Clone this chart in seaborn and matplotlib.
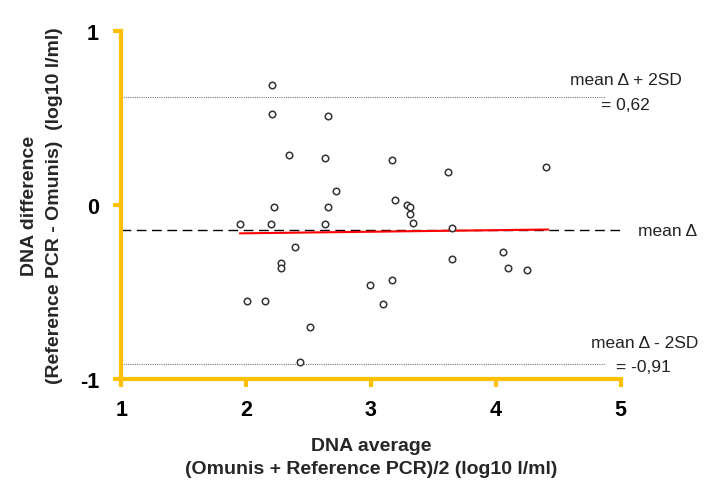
import matplotlib
matplotlib.use("Agg")
import numpy as np
import pandas as pd
import matplotlib.pyplot as plt
import seaborn as sns

# Bland-Altman points
dna_average = [2.21, 2.21, 2.66, 2.34, 2.63, 3.17, 3.62, 4.40, 2.72, 3.19,
               2.22, 2.66, 3.29, 3.31, 3.31, 1.95, 2.20, 2.63, 3.34, 3.65,
               2.39, 2.28, 2.28, 2.01, 2.15, 3.65, 2.99, 3.17, 3.10, 2.51,
               2.43, 4.06, 4.10, 4.25]
dna_difference = [0.69, 0.52, 0.51, 0.29, 0.27, 0.26, 0.19, 0.22, 0.08, 0.03,
                  -0.01, -0.01, 0.00, -0.01, -0.05, -0.11, -0.11, -0.11, -0.10, -0.13,
                  -0.24, -0.33, -0.36, -0.55, -0.55, -0.31, -0.46, -0.43, -0.57, -0.70,
                  -0.90, -0.27, -0.36, -0.37]

upper_loa = 0.62
lower_loa = -0.91
mean_delta = (upper_loa + lower_loa) / 2

# trend line (red)
trend_x = [1.95, 4.42]
trend_y = [-0.162, -0.140]

x_ticks = [1, 2, 3, 4, 5]
y_ticks = [-1, 0, 1]

yellow = "#FFC000"

sns.set_style("white")
plt.rcParams['font.family'] = ['Liberation Sans', 'DejaVu Sans']

fig = plt.figure(figsize=(7.21, 4.89), dpi=100)
ax = fig.add_axes([0.168, 0.222, 0.693, 0.713])

df = pd.DataFrame({'avg': dna_average, 'diff': dna_difference})

ax.plot([1, 4.87], [upper_loa, upper_loa], color="#777777", lw=0.8, ls=(0, (1, 1)))
ax.plot([1, 4.87], [lower_loa, lower_loa], color="#777777", lw=0.8, ls=(0, (1, 1)))
ax.plot([1, 5.0], [mean_delta, mean_delta], color="black", lw=1.0, ls=(0, (7, 4)), clip_on=False)

sns.lineplot(x=trend_x, y=trend_y, color="red", lw=1.5, ax=ax)

sns.scatterplot(data=df, x='avg', y='diff', s=22, facecolor="white",
                edgecolor="#333333", linewidth=1.1, ax=ax, zorder=3)

ax.set_xlim(1, 5)
ax.set_ylim(-1, 1)
ax.set_xticks(x_ticks)
ax.set_yticks(y_ticks)
ax.set_xticklabels([str(t) for t in x_ticks], fontsize=15.5, fontweight='bold')
ax.set_yticklabels([str(t) for t in y_ticks], fontsize=15.5, fontweight='bold')

for side in ['top', 'right']:
    ax.spines[side].set_visible(False)
for side in ['left', 'bottom']:
    ax.spines[side].set_color(yellow)
    ax.spines[side].set_linewidth(3)
ax.tick_params(axis='both', colors=yellow, labelcolor='black', length=6, width=3,
               direction='out', bottom=True, left=True)
ax.tick_params(axis='x', pad=8)
ax.tick_params(axis='y', pad=10)

ax.set_xlabel("DNA average\n(Omunis + Reference PCR)/2 (log10 l/ml)",
              fontsize=14, fontweight='bold', labelpad=12, linespacing=1.5)
ax.set_ylabel("DNA difference\n(Reference PCR - Omunis)  (log10 l/ml)",
              fontsize=14, fontweight='bold', labelpad=12, linespacing=1.6)

txt = dict(fontsize=12.5, color="#222222", clip_on=False)
ax.text(5.04, 0.723, "mean \u0394 + 2SD", ha='center', va='center', **txt)
ax.text(5.04, 0.578, "= 0,62", ha='center', va='center', **txt)
ax.text(5.135, mean_delta, "mean \u0394", ha='left', va='center', **txt)
ax.text(5.19, -0.79, "mean \u0394 - 2SD", ha='center', va='center', **txt)
ax.text(5.18, -0.925, "= -0,91", ha='center', va='center', **txt)

fig.savefig("out.png", dpi=100)
